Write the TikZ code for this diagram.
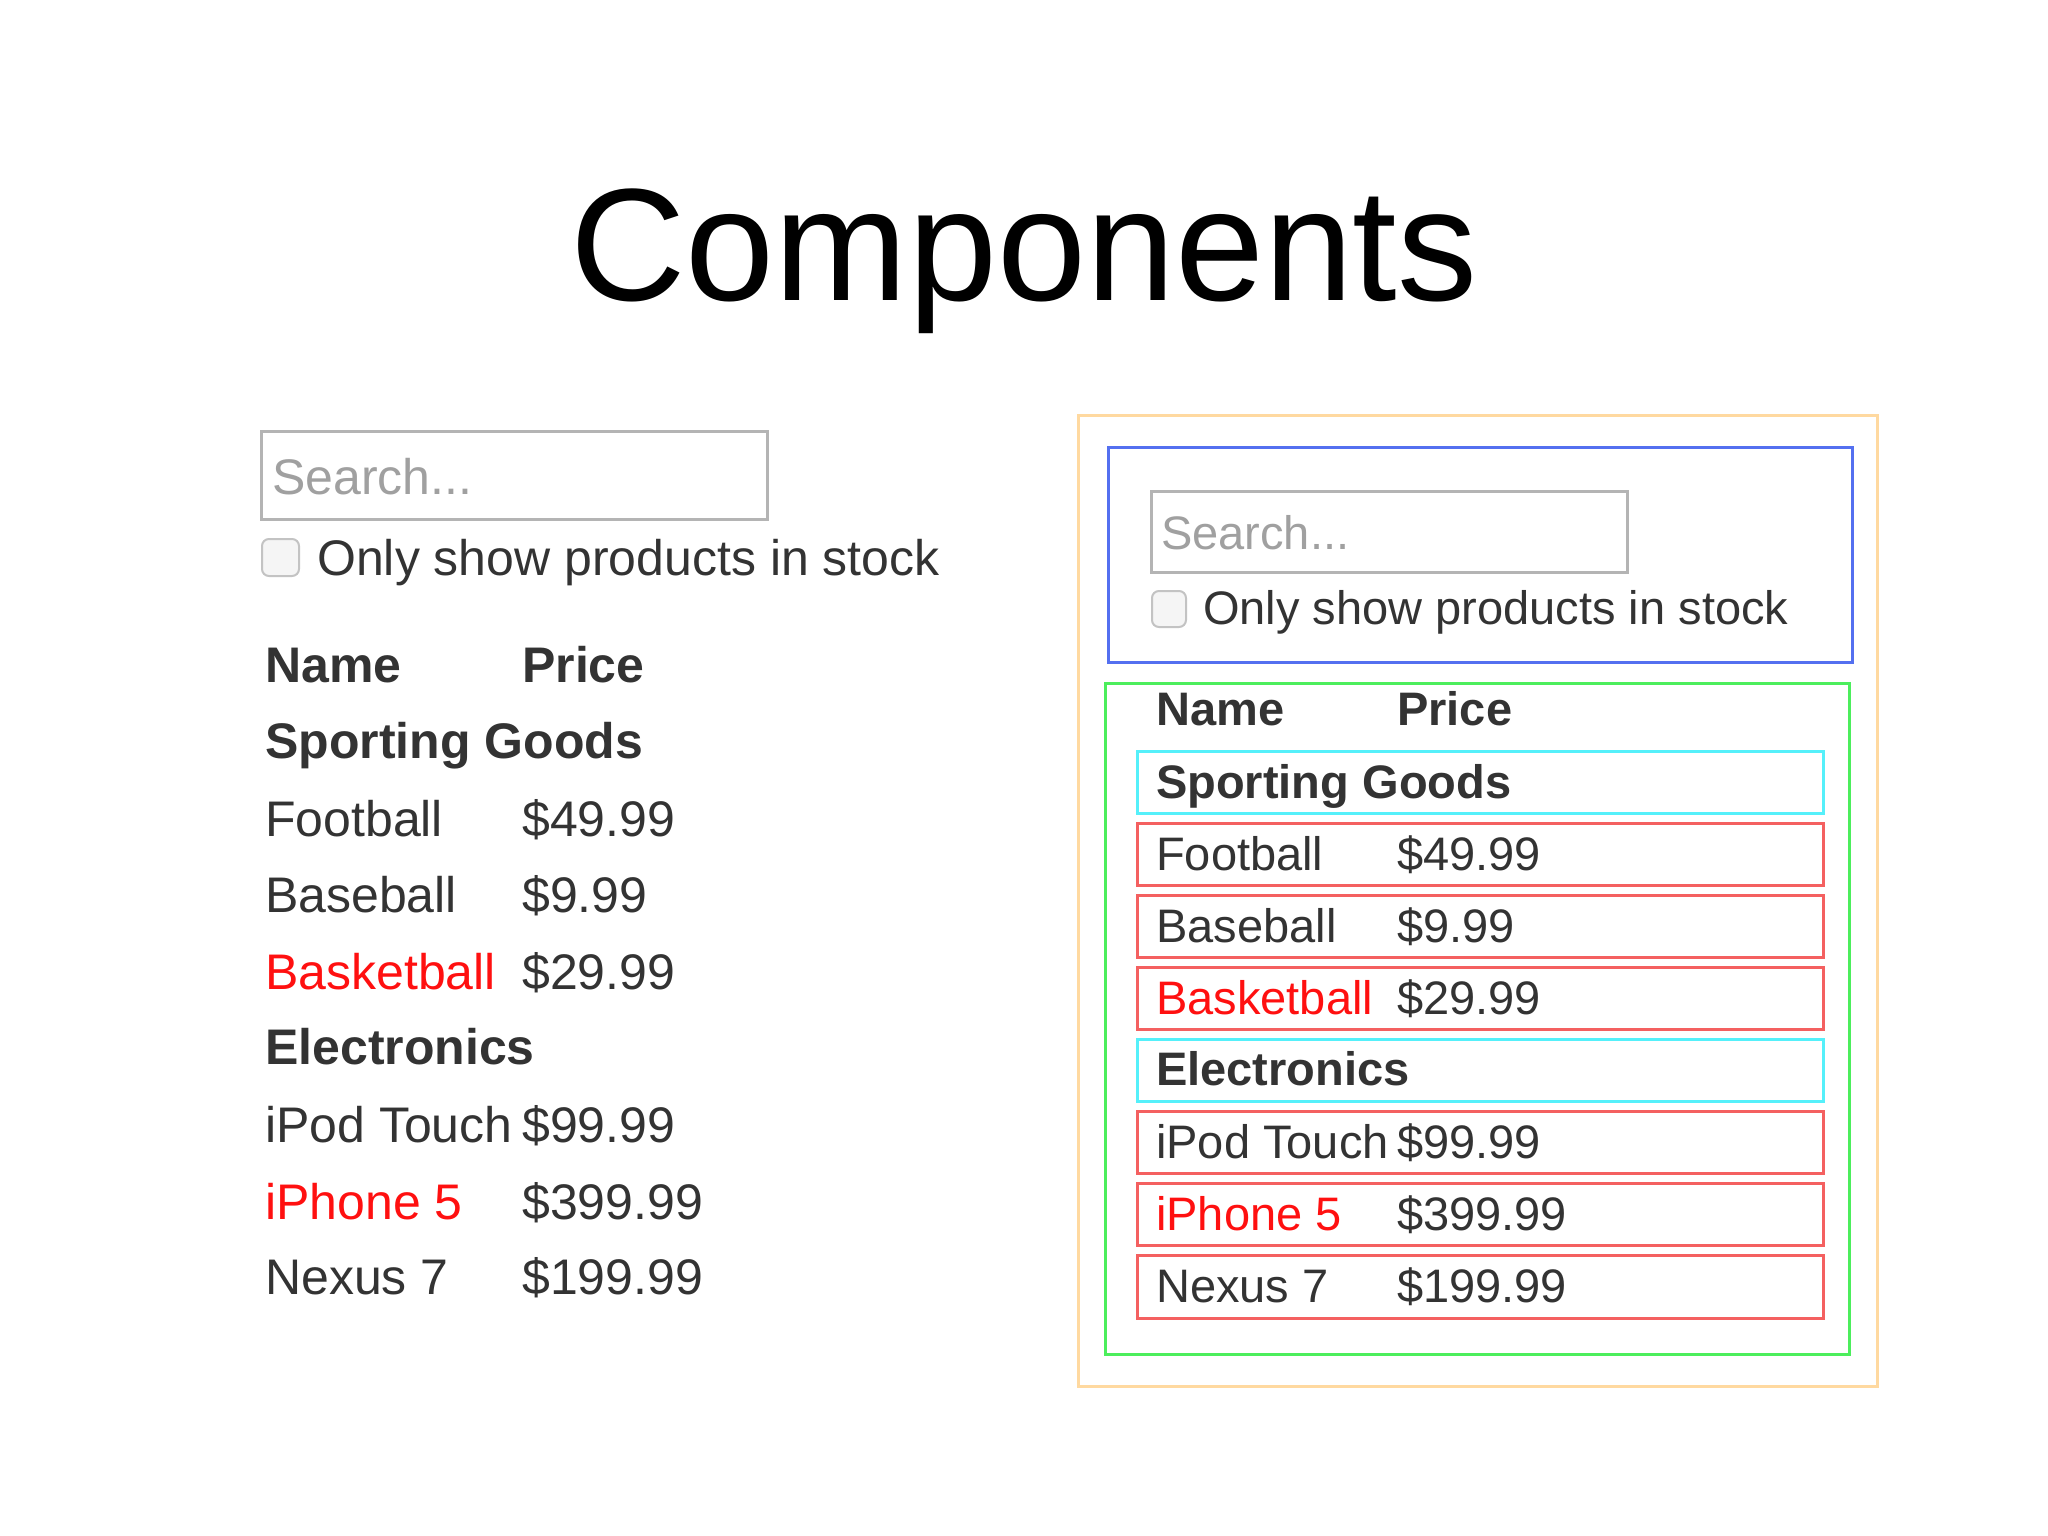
\documentclass[tikz,border=0pt]{standalone}
\usepackage{fontspec}
\setmainfont{Liberation Sans}
\definecolor{txt}{HTML}{333333}
\definecolor{ph}{HTML}{A0A0A0}
\definecolor{boxgray}{HTML}{B4B4B4}
\definecolor{redtxt}{HTML}{FF1010}
\definecolor{orangeb}{HTML}{FFD9A0}
\definecolor{blueb}{HTML}{5470F0}
\definecolor{greenb}{HTML}{4CEE5C}
\definecolor{cyanb}{HTML}{55F0FA}
\definecolor{redb}{HTML}{F46060}
\tikzset{
  lbl/.style={anchor=base west, inner sep=0pt, text=txt},
  bigL/.style={lbl, font=\fontsize{50}{60}\selectfont},
  bigR/.style={lbl, font=\fontsize{47}{56}\selectfont},
  searchbox/.style={draw=boxgray, line width=3pt},
  chk/.style={draw=boxgray!80, fill=gray!8, line width=2pt, rounded corners=7pt},
  frame/.style={line width=3pt},
}
\begin{document}
\begin{tikzpicture}[x=1pt,y=-1pt]
\useasboundingbox[fill=white] (0,0) rectangle (2048,1536);
% title
\node[anchor=base, inner sep=0pt, font=\fontsize{160}{190}\selectfont] (title) at (1024,300) {Components};

% ---------- left panel ----------
\draw[searchbox] (261,431) rectangle (767,519);
\node[bigL, text=ph] (lsearch) at (272,494) {Search...};
\draw[chk] (262,539) rectangle (299,576);
\node[bigL] (lonly) at (317,575) {Only show products in stock};
\node[bigL, font=\bfseries\fontsize{50}{60}\selectfont] (lname) at (265,682) {Name};
\node[bigL, font=\bfseries\fontsize{50}{60}\selectfont] (lprice) at (522,682) {Price};
\node[bigL, font=\bfseries\fontsize{50}{60}\selectfont] (lsg) at (265,758) {Sporting Goods};
\node[bigL] (lfb) at (265,836) {Football};
\node[bigL] (lfbp) at (522,836) {\$49.99};
\node[bigL] (lbb) at (265,912) {Baseball};
\node[bigL] (lbbp) at (522,912) {\$9.99};
\node[bigL, text=redtxt] (lbk) at (265,989) {Basketball};
\node[bigL] (lbkp) at (522,989) {\$29.99};
\node[bigL, font=\bfseries\fontsize{50}{60}\selectfont] (lel) at (265,1064) {Electronics};
\node[bigL] (lip) at (265,1142) {iPod Touch};
\node[bigL] (lipp) at (522,1142) {\$99.99};
\node[bigL, text=redtxt] (liph) at (265,1219) {iPhone 5};
\node[bigL] (liphp) at (522,1219) {\$399.99};
\node[bigL] (lnx) at (265,1294) {Nexus 7};
\node[bigL] (lnxp) at (522,1294) {\$199.99};

% ---------- right panel ----------
\draw[frame, draw=orangeb] (1078,415) rectangle (1877,1386);
\draw[frame, draw=blueb] (1108,447) rectangle (1852,662);
\draw[searchbox] (1151,491) rectangle (1627,572);
\node[bigR, text=ph] (rsearch) at (1161,549) {Search...};
\draw[chk] (1152,591) rectangle (1186,627);
\node[bigR] (ronly) at (1203,624) {Only show products in stock};
\draw[frame, draw=greenb] (1105,683) rectangle (1849,1354);
\node[bigR, font=\bfseries\fontsize{47}{56}\selectfont] (rname) at (1156,725) {Name};
\node[bigR, font=\bfseries\fontsize{47}{56}\selectfont] (rprice) at (1397,725) {Price};
% rows
\draw[frame, draw=cyanb] (1137,751) rectangle (1823,813);
\node[bigR, font=\bfseries\fontsize{47}{56}\selectfont] (rsg) at (1156,798) {Sporting Goods};
\draw[frame, draw=redb] (1137,823) rectangle (1823,885);
\node[bigR] (rfb) at (1156,870) {Football};
\node[bigR] (rfbp) at (1397,870) {\$49.99};
\draw[frame, draw=redb] (1137,895) rectangle (1823,957);
\node[bigR] (rbb) at (1156,942) {Baseball};
\node[bigR] (rbbp) at (1397,942) {\$9.99};
\draw[frame, draw=redb] (1137,967) rectangle (1823,1029);
\node[bigR, text=redtxt] (rbk) at (1156,1014) {Basketball};
\node[bigR] (rbkp) at (1397,1014) {\$29.99};
\draw[frame, draw=cyanb] (1137,1039) rectangle (1823,1101);
\node[bigR, font=\bfseries\fontsize{47}{56}\selectfont] (rel) at (1156,1085) {Electronics};
\draw[frame, draw=redb] (1137,1111) rectangle (1823,1173);
\node[bigR] (rip) at (1156,1158) {iPod Touch};
\node[bigR] (ripp) at (1397,1158) {\$99.99};
\draw[frame, draw=redb] (1137,1183) rectangle (1823,1245);
\node[bigR, text=redtxt] (riph) at (1156,1230) {iPhone 5};
\node[bigR] (riphp) at (1397,1230) {\$399.99};
\draw[frame, draw=redb] (1137,1255) rectangle (1823,1318);
\node[bigR] (rnx) at (1156,1302) {Nexus 7};
\node[bigR] (rnxp) at (1397,1302) {\$199.99};
\end{tikzpicture}
\end{document}
